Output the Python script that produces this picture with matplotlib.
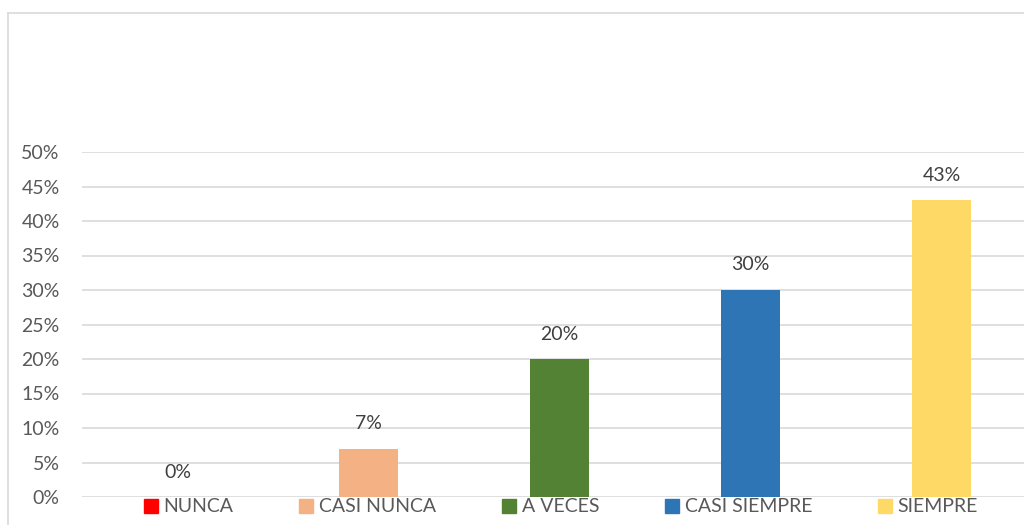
import matplotlib
matplotlib.use("Agg")
import matplotlib.pyplot as plt
from matplotlib.patches import Patch
from matplotlib.lines import Line2D

# Datos
categorias = ["NUNCA", "CASI NUNCA", "A VECES", "CASI SIEMPRE", "SIEMPRE"]
valores = [0.0, 0.07, 0.20, 0.30, 0.43]
etiquetas = ["0%", "7%", "20%", "30%", "43%"]
colores = ["#FF0000", "#F4B183", "#548235", "#2E75B6", "#FFD966"]
ticks_y = [0, 0.05, 0.10, 0.15, 0.20, 0.25, 0.30, 0.35, 0.40, 0.45, 0.50]

plt.rcParams['font.family'] = ['Lato', 'DejaVu Sans']
gris = "#595959"
tam = 14

fig = plt.figure(figsize=(10.24, 5.25), dpi=100)
ax = fig.add_axes([82 / 1024, 1 - 497 / 525, 955 / 1024, 345 / 525])

x = list(range(len(categorias)))
ax.bar(x, valores, width=0.31, color=colores, zorder=3)
for xi, v, t in zip(x, valores, etiquetas):
    ax.annotate(t, (xi, v), xytext=(0, 18), textcoords="offset points",
                ha="center", va="center", fontsize=tam, color="#404040")

ax.set_xlim(-0.5, 4.5)
ax.set_ylim(0, 0.5)
ax.set_yticks(ticks_y)
ax.set_yticklabels([f"{int(round(t * 100))}%" for t in ticks_y])
ax.tick_params(axis="y", length=0, labelsize=tam, labelcolor=gris, pad=16)
ax.set_xticks([])
ax.grid(axis="y", color="#D9D9D9", linewidth=1.2, zorder=0)
for s in ax.spines.values():
    s.set_visible(False)

# Borde del gráfico
fig.add_artist(Line2D([8 / 1024, 8 / 1024], [0, 1 - 13 / 525],
                      transform=fig.transFigure, color="#D9D9D9", linewidth=1.2))
fig.add_artist(Line2D([8 / 1024, 1], [1 - 13 / 525, 1 - 13 / 525],
                      transform=fig.transFigure, color="#D9D9D9", linewidth=1.2))

# Leyenda
handles = [Patch(color=c, label=l) for c, l in zip(colores, categorias)]
fig.legend(handles=handles, loc="center", ncol=5, frameon=False,
           bbox_to_anchor=(561 / 1024, 1 - 507 / 525), fontsize=tam,
           labelcolor=gris, handlelength=0.7, handleheight=0.7,
           handletextpad=0.3, columnspacing=3.4)

fig.savefig("out.png", dpi=100, facecolor="white")
